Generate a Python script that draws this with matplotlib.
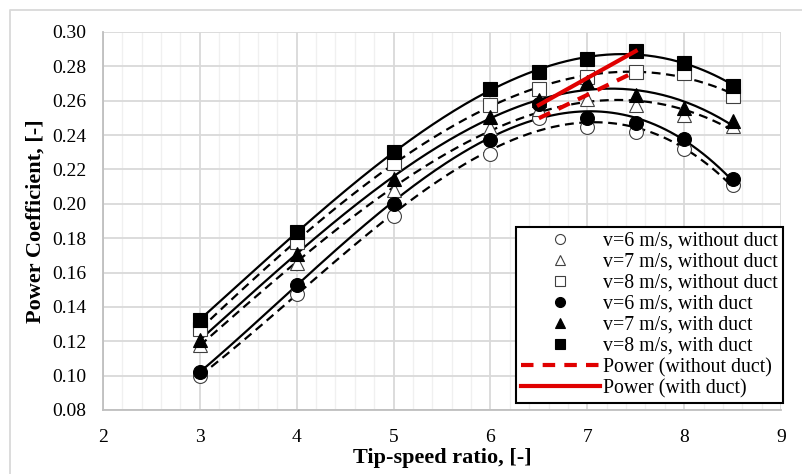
import numpy as np
import matplotlib
matplotlib.use("Agg")
import matplotlib.pyplot as plt
from matplotlib.lines import Line2D
from matplotlib.ticker import MultipleLocator

# ---- data ----
tsr = [3, 4, 5, 6, 6.5, 7, 7.5, 8, 8.5]
cp_v6_noduct = [0.100, 0.1475, 0.193, 0.229, 0.250, 0.245, 0.242, 0.232, 0.211]
cp_v7_noduct = [0.118, 0.1657, 0.208, 0.244, 0.255, 0.261, 0.2575, 0.2517, 0.2453]
cp_v8_noduct = [0.127, 0.178, 0.224, 0.2575, 0.2666, 0.2736, 0.277, 0.276, 0.2628]
cp_v6_duct = [0.1023, 0.1527, 0.1997, 0.2371, 0.258, 0.2498, 0.2473, 0.2375, 0.2143]
cp_v7_duct = [0.121, 0.171, 0.2143, 0.2507, 0.2604, 0.2711, 0.2633, 0.2556, 0.2482]
cp_v8_duct = [0.1324, 0.1838, 0.230, 0.2666, 0.2769, 0.2843, 0.2891, 0.2821, 0.2686]

power_x = [6.5, 7.5]
power_noduct = [0.2498, 0.277]
power_duct = [0.2575, 0.2889]

labels = ["v=6 m/s, without duct", "v=7 m/s, without duct", "v=8 m/s, without duct",
          "v=6 m/s, with duct", "v=7 m/s, with duct", "v=8 m/s, with duct",
          "Power (without duct)", "Power (with duct)"]

xticks = [2, 3, 4, 5, 6, 7, 8, 9]
yticks = [0.08, 0.10, 0.12, 0.14, 0.16, 0.18, 0.20, 0.22, 0.24, 0.26, 0.28, 0.30]

plt.rcParams['font.family'] = ['Liberation Serif', 'DejaVu Serif']

fig = plt.figure(figsize=(8.03, 4.74), dpi=100)
ax = fig.add_axes([103/803, 1-410/474, 678/803, 378/474])

# figure frame (top and left edges visible)
fig.lines.append(Line2D([10/803, 10/803, 1.0], [0.0, 1-10/474, 1-10/474],
                        transform=fig.transFigure, color='#d9d9d9', linewidth=1.3))

ax.set_xlim(2, 9)
ax.set_ylim(0.08, 0.30)
ax.set_xticks(xticks)
ax.set_yticks(yticks)
ax.set_xticklabels([str(v) for v in xticks])
ax.set_yticklabels([f"{v:.2f}" for v in yticks])
ax.xaxis.set_minor_locator(MultipleLocator(0.2))
ax.grid(which='major', color='#d9d9d9', linewidth=1.3, zorder=0)
ax.grid(which='minor', axis='x', color='#f0f0f0', linewidth=1.0, zorder=0)
ax.set_axisbelow(True)
ax.tick_params(which='both', length=0, labelsize=14)
ax.tick_params(axis='x', pad=14)
ax.tick_params(axis='y', pad=12)
for s in ['top', 'right']:
    ax.spines[s].set_visible(False)
for s in ['left', 'bottom']:
    ax.spines[s].set_color('#bfbfbf')
    ax.spines[s].set_linewidth(1.3)

xs = np.linspace(3, 8.5, 200)
series = [
    (cp_v6_noduct, 'o', 'white', '--'),
    (cp_v7_noduct, '^', 'white', '--'),
    (cp_v8_noduct, 's', 'white', '--'),
    (cp_v6_duct, 'o', 'black', '-'),
    (cp_v7_duct, '^', 'black', '-'),
    (cp_v8_duct, 's', 'black', '-'),
]
handles = []
for ys, m, fc, ls in series:
    c = np.polyfit(tsr, ys, 3)
    kw = dict(dashes=(4, 2.5)) if ls == '--' else {}
    ax.plot(xs, np.polyval(c, xs), color='black', linestyle=ls, linewidth=1.6, zorder=2, **kw)
for ys, m, fc, ls in series:
    ms = 10 if m != '^' else 10.5
    h, = ax.plot(tsr, ys, linestyle='none', marker=m, markersize=ms,
                 markerfacecolor=fc, markeredgecolor='black' if fc == 'black' else '#404040',
                 markeredgewidth=0.8, zorder=3)
    handles.append(h)

h1, = ax.plot(power_x, power_noduct, color='#e00000', linewidth=3, linestyle='--',
              dashes=(3, 2.2), zorder=4)
h2, = ax.plot(power_x, power_duct, color='#e00000', linewidth=3, zorder=4)
handles += [h1, h2]

leg = ax.legend(handles, labels, loc='lower right',
                bbox_to_anchor=(1.003, 0.018), fontsize=14.3,
                frameon=True, fancybox=False, framealpha=1, edgecolor='black',
                borderpad=0.25, labelspacing=0.1, handlelength=4.0, handletextpad=0.15,
                borderaxespad=0, markerscale=0.72)
leg.get_frame().set_linewidth(1.5)
leg.set_zorder(10)

ax.set_xlabel("Tip-speed ratio, [-]", fontsize=16, fontweight='bold', labelpad=1)
ax.set_ylabel("Power Coefficient, [-]", fontsize=16, fontweight='bold', labelpad=5)

fig.savefig("out.png", dpi=100)
